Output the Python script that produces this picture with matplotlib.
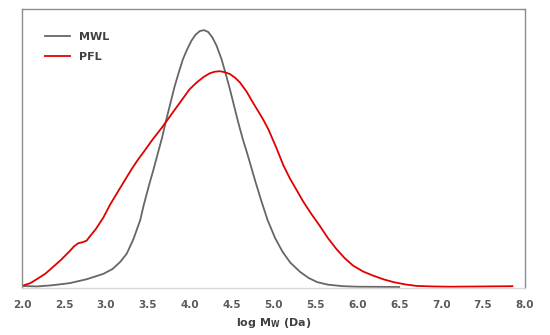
import matplotlib.pyplot as plt
import numpy as np

# MWL curve (log Mw, normalised signal)
mwl_x = [2.0, 2.18, 2.37, 2.57, 2.77, 2.97, 3.08, 3.17, 3.25, 3.33, 3.41, 3.45,
         3.51, 3.57, 3.62, 3.67, 3.72, 3.77, 3.82, 3.87, 3.92, 3.97, 4.02,
         4.07, 4.12, 4.17, 4.22, 4.27, 4.32, 4.38, 4.43, 4.48, 4.53, 4.58,
         4.63, 4.70, 4.78, 4.85, 4.93, 5.02, 5.11, 5.20, 5.32, 5.42, 5.52,
         5.65, 5.83, 6.0, 6.5]
mwl_y = [0.004, 0.002, 0.007, 0.015, 0.030, 0.051, 0.070, 0.097, 0.130, 0.187,
         0.260, 0.316, 0.390, 0.459, 0.520, 0.580, 0.650, 0.715, 0.780, 0.835,
         0.887, 0.925, 0.958, 0.982, 0.996, 1.0, 0.993, 0.972, 0.940, 0.887,
         0.830, 0.770, 0.705, 0.640, 0.580, 0.505, 0.415, 0.340, 0.260, 0.190,
         0.136, 0.095, 0.058, 0.035, 0.019, 0.009, 0.003, 0.001, 0.0]

# PFL curve
pfl_x = [2.0, 2.10, 2.18, 2.28, 2.37, 2.47, 2.57, 2.62, 2.67, 2.72, 2.77, 2.81,
         2.88, 2.97, 3.05, 3.17, 3.25, 3.31, 3.38, 3.45, 3.56, 3.67, 3.80,
         3.90, 4.00, 4.08, 4.16, 4.24, 4.30, 4.36, 4.42, 4.48, 4.54, 4.60,
         4.68, 4.76, 4.82, 4.88, 4.94, 5.03, 5.12, 5.20, 5.28, 5.35, 5.45,
         5.55, 5.65, 5.75, 5.85, 5.95, 6.07, 6.19, 6.31, 6.43, 6.57, 6.71,
         6.9, 7.1, 7.5, 7.85]
pfl_y = [0.004, 0.015, 0.031, 0.052, 0.078, 0.107, 0.140, 0.158, 0.170, 0.174,
         0.180, 0.197, 0.225, 0.270, 0.320, 0.385, 0.428, 0.460, 0.494, 0.525,
         0.575, 0.621, 0.680, 0.725, 0.770, 0.795, 0.816, 0.832, 0.838, 0.840,
         0.836, 0.829, 0.815, 0.796, 0.760, 0.715, 0.683, 0.650, 0.613, 0.545,
         0.472, 0.420, 0.375, 0.335, 0.285, 0.239, 0.190, 0.148, 0.112, 0.083,
         0.060, 0.044, 0.030, 0.019, 0.010, 0.004, 0.002, 0.001, 0.002, 0.003]

xticks = np.arange(2.0, 8.01, 0.5)

fig = plt.figure(figsize=(5.5, 3.35), dpi=100)
ax = fig.add_axes([0.04, 0.1403, 0.9145, 0.8327])

ax.plot(mwl_x, mwl_y, color="#666666", linewidth=1.3, label="MWL",
        solid_joinstyle="round")
ax.plot(pfl_x, pfl_y, color="#e00000", linewidth=1.3, label="PFL",
        solid_joinstyle="round")

ax.set_xlim(2.0, 8.0)
ax.set_ylim(-0.004, 1.082)
ax.set_xticks(xticks)
ax.set_xticklabels([f"{t:.1f}" for t in xticks], fontsize=7.5,
                   fontweight="bold", color="#595959")
ax.set_yticks([])
ax.tick_params(axis="x", length=0, pad=9)

for side in ["left", "top", "right"]:
    ax.spines[side].set_color("#8c8c8c")
    ax.spines[side].set_linewidth(1.0)
ax.spines["bottom"].set_color("#d9d9d9")
ax.spines["bottom"].set_linewidth(1.0)

ax.set_xlabel("log M$_\\mathbf{W}$ (Da)", fontsize=8, fontweight="bold",
              color="#404040", labelpad=4)

leg = ax.legend(loc="upper left", frameon=False, bbox_to_anchor=(0.025, 0.955),
                handlelength=2.3, handletextpad=0.8, labelspacing=0.9,
                prop={"weight": "bold", "size": 8})
for t in leg.get_texts():
    t.set_color("#404040")

fig.savefig("out.png", dpi=100)
